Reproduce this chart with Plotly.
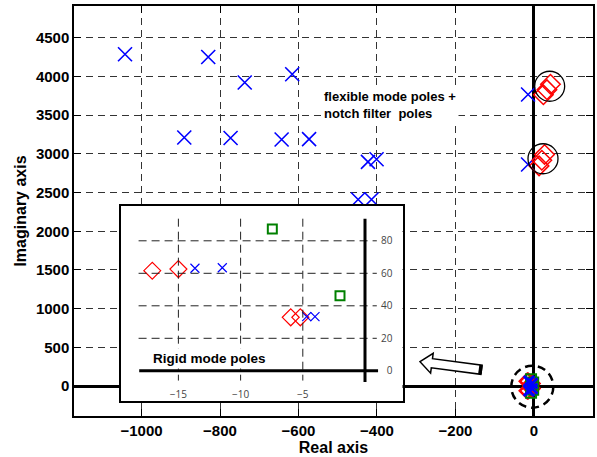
import math
import plotly.graph_objects as go

# ---------------- data ----------------
# flexible mode poles (blue x)
flex_re = [-1042, -891, -830, -773, -737, -643, -616, -573, -423, -401, -448, -414, -15, -15]
flex_im = [4287, 3212, 4252, 3206, 3922, 3186, 4029, 3190, 2896, 2931, 2410, 2410, 3767, 2863]
# notch filter poles (red diamonds, main plot)
notch_re = [24, 33, 42, 13, 20, 27]
notch_im = [3765, 3830, 3900, 2845, 2918, 2992]
# highlighted locations (black circles)
circ_re = [40, 23]
circ_im = [3874, 2937]

# rigid mode poles (inset)
rig_dia_re = [-17.1, -15.0, -5.97, -5.2]
rig_dia_im = [61.6, 62.6, 32.9, 32.9]
rig_x_re = [-13.67, -11.47, -4.69, -4.02]
rig_x_im = [63.1, 63.4, 33.3, 33.3]
rig_sq_re = [-7.45, -2.01]
rig_sq_im = [87.3, 46.2]

main_xticks = [-1000, -800, -600, -400, -200, 0]
main_yticks = [0, 500, 1000, 1500, 2000, 2500, 3000, 3500, 4000, 4500]
inset_xticks = [-15, -10, -5]
inset_yticks = [0, 20, 40, 60, 80]

BLUE = "#0000FF"
RED = "#FF0000"
GREEN = "#008000"

# ---------------- geometry helpers (pixel -> paper) ----------------
L, R, T, B = 74, 593, 6, 416
W, H = R - L, B - T


def px(x):
    return (x - L) / W


def py(y):
    return (B - y) / H


fig = go.Figure()

# main plot: rigid poles cluster at the origin (with conjugates)
def conj(v):
    return v + [-a for a in v]

fig.add_trace(go.Scatter(x=rig_dia_re * 2, y=conj(rig_dia_im), mode="markers",
                         marker=dict(symbol="diamond-open", size=12, color=RED, line=dict(width=2)),
                         showlegend=False, hoverinfo="skip"))
fig.add_trace(go.Scatter(x=rig_sq_re * 2, y=conj(rig_sq_im), mode="markers",
                         marker=dict(symbol="square-open", size=10, color=GREEN, line=dict(width=2)),
                         showlegend=False, hoverinfo="skip"))
fig.add_trace(go.Scatter(x=rig_x_re * 2, y=conj(rig_x_im), mode="markers",
                         marker=dict(symbol="x-thin-open", size=10, color=BLUE, line=dict(width=2.5)),
                         showlegend=False, hoverinfo="skip"))

# main plot: flexible poles + notch filter poles
fig.add_trace(go.Scatter(x=flex_re, y=flex_im, mode="markers",
                         marker=dict(symbol="x-thin-open", size=14, color=BLUE, line=dict(width=1.6)),
                         showlegend=False))
fig.add_trace(go.Scatter(x=notch_re, y=notch_im, mode="markers",
                         marker=dict(symbol="diamond-open", size=15, color=RED, line=dict(width=1.5)),
                         showlegend=False))
fig.add_trace(go.Scatter(x=circ_re, y=circ_im, mode="markers",
                         marker=dict(symbol="circle-open", size=30, color="black", line=dict(width=1.3)),
                         showlegend=False, hoverinfo="skip"))

# inset traces
fig.add_trace(go.Scatter(x=rig_dia_re, y=rig_dia_im, mode="markers", xaxis="x2", yaxis="y2",
                         marker=dict(symbol="diamond-open", size=13, color=RED, line=dict(width=1.2)),
                         showlegend=False))
fig.add_trace(go.Scatter(x=rig_x_re, y=rig_x_im, mode="markers", xaxis="x2", yaxis="y2",
                         marker=dict(symbol="x-thin-open", size=9, color=BLUE, line=dict(width=1.2)),
                         showlegend=False))
fig.add_trace(go.Scatter(x=rig_sq_re, y=rig_sq_im, mode="markers", xaxis="x2", yaxis="y2",
                         marker=dict(symbol="square-open", size=9, color=GREEN, line=dict(width=2)),
                         showlegend=False))

# inset geometry
box_x0, box_x1, box_y0, box_y1 = 120.5, 402.5, 205.5, 400.5
ix0, ix_scale = 365.0, 12.44   # pixel of x=0, px per unit
iy0, iy_scale = 370.8, 1.625
inset_xr = [(box_x0 - ix0) / ix_scale, (box_x1 - ix0) / ix_scale]
inset_yr = [(iy0 - box_y1) / iy_scale, (iy0 - box_y0) / iy_scale]

shapes = []
# inset grid lines (dashed, limited extent)
for v in inset_xticks:
    shapes.append(dict(type="line", xref="x2", yref="y2", x0=v, x1=v, y0=93.6, y1=-6,
                       line=dict(color="#222", width=1, dash="8px,5px"), layer="above"))
for v in inset_yticks[1:]:
    shapes.append(dict(type="line", xref="x2", yref="y2", x0=-18.2, x1=0.95, y0=v, y1=v,
                       line=dict(color="#222", width=1, dash="8px,5px"), layer="above"))
# inset zero axes
shapes.append(dict(type="line", xref="x2", yref="y2", x0=0, x1=0, y0=93.6, y1=-6.9,
                   line=dict(color="black", width=3), layer="above"))
shapes.append(dict(type="line", xref="x2", yref="y2", x0=-18.15, x1=1.05, y0=0, y1=0,
                   line=dict(color="black", width=3), layer="above"))

# dashed circle around the origin cluster
cx, cy, rr = 532.3, 386.7, 21
shapes.append(dict(type="circle", xref="paper", yref="paper",
                   x0=px(cx - rr), x1=px(cx + rr), y0=py(cy + rr), y1=py(cy - rr),
                   line=dict(color="black", width=2.5, dash="8px,5px")))

# block arrow pointing to the inset
tipx, tipy = 420.0, 361.7
th = math.radians(7.5)
ux, uy = math.cos(th), math.sin(th)
vx, vy = -math.sin(th), math.cos(th)
local = [(0, 0), (12, -10), (12, -4.6), (62, -4.6), (62, 4.6), (12, 4.6), (12, 10)]
pts = [(tipx + u * ux + v * vx, tipy + u * uy + v * vy) for u, v in local]
path = "M " + " L ".join(f"{px(x):.5f},{py(y):.5f}" for x, y in pts) + " Z"
shapes.append(dict(type="path", xref="paper", yref="paper", path=path,
                   fillcolor="white", line=dict(color="black", width=1.5)))
# thick tail edge (shadow)
t1 = (tipx + 61 * ux - 4.6 * vx, tipy + 61 * uy - 4.6 * vy)
t2 = (tipx + 61 * ux + 4.6 * vx, tipy + 61 * uy + 4.6 * vy)
shapes.append(dict(type="line", xref="paper", yref="paper",
                   x0=px(t1[0]), y0=py(t1[1]), x1=px(t2[0]), y1=py(t2[1]),
                   line=dict(color="black", width=3.5)))

annotations = [
    dict(text="flexible mode poles +<br>notch filter  poles", xref="paper", yref="paper",
         x=px(321), y=py(104.7), xanchor="left", yanchor="middle", align="left", showarrow=False,
         bgcolor="white", borderpad=2,
         font=dict(family="Liberation Sans, Arial", size=13, color="black", weight="bold")),
    dict(text="Rigid mode poles", xref="paper", yref="paper",
         x=px(150), y=py(358.5), xanchor="left", yanchor="middle", showarrow=False,
         bgcolor="white", borderpad=2,
         font=dict(family="Liberation Sans, Arial", size=13.5, color="black", weight="bold")),
]

tickfont = dict(family="Liberation Sans, Arial", size=15, color="black", weight="bold")
titlefont = dict(family="Liberation Sans, Arial", size=16, color="black", weight="bold")

fig.update_layout(
    width=597, height=457,
    margin=dict(l=L, r=597 - R, t=T, b=457 - B),
    paper_bgcolor="white", plot_bgcolor="white",
    showlegend=False,
    shapes=shapes,
    annotations=annotations,
    xaxis=dict(domain=[0, 1], range=[-1172, 150.4], tickvals=main_xticks, automargin=False,
               showgrid=True, gridcolor="#333", gridwidth=1, griddash="7px,5px",
               zeroline=True, zerolinecolor="black", zerolinewidth=3,
               showline=True, linecolor="black", linewidth=1.5, mirror="ticks",
               ticks="inside", ticklen=7, tickcolor="black", tickfont=tickfont,
               title=dict(text="Real axis", font=titlefont, standoff=3)),
    yaxis=dict(domain=[0, 1], range=[-387, 4911], tickvals=main_yticks, automargin=False,
               showgrid=True, gridcolor="#333", gridwidth=1, griddash="7px,5px",
               zeroline=True, zerolinecolor="black", zerolinewidth=3,
               showline=True, linecolor="black", linewidth=1.5, mirror="ticks",
               ticks="inside", ticklen=7, tickcolor="black", tickfont=tickfont,
               title=dict(text="Imaginary axis", font=titlefont, standoff=5)),
    xaxis2=dict(domain=[px(box_x0), px(box_x1)], range=inset_xr, anchor="y2", automargin=False,
                tickvals=inset_xticks, showgrid=False, zeroline=False,
                showline=True, linecolor="black", linewidth=2, mirror=True,
                ticks="", ticklabelposition="inside",
                tickfont=dict(family="Open Sans", size=10, color="#444")),
    yaxis2=dict(domain=[py(box_y1), py(box_y0)], range=inset_yr, anchor="x2", side="right",
                automargin=False,
                tickvals=inset_yticks, showgrid=False, zeroline=False,
                showline=True, linecolor="black", linewidth=2, mirror=True,
                ticks="", ticklabelposition="inside", ticklabelstandoff=9,
                tickfont=dict(family="Open Sans", size=10, color="#444")),
)

fig.write_html("out.html", config={"displayModeBar": False},
               post_script="document.body.style.margin='0';document.body.style.overflow='hidden';")
